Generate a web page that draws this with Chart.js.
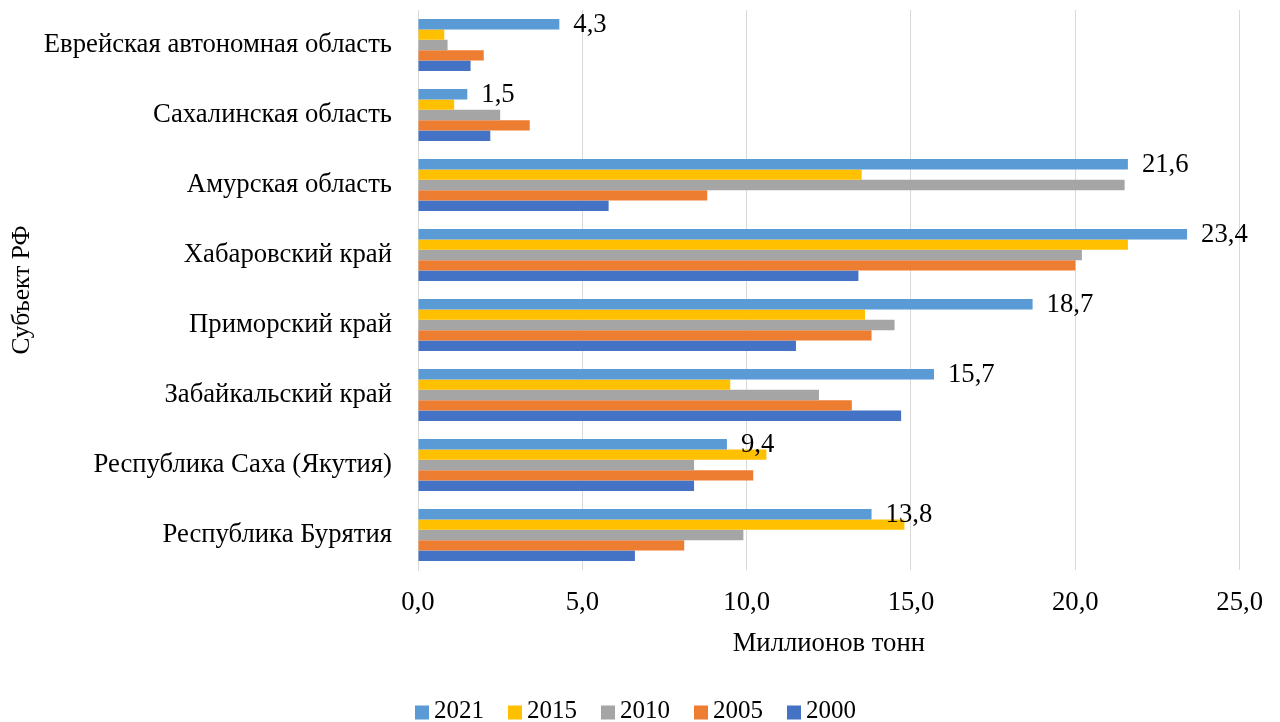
<!DOCTYPE html>
<html><head><meta charset="utf-8">
<script src="https://cdn.jsdelivr.net/npm/chart.js@4/dist/chart.umd.min.js"></script>
<style>html,body{margin:0;padding:0;background:#fff}#wrap{width:1280px;height:722px}</style>
</head><body><div id="wrap"><canvas id="c" width="1280" height="722"></canvas></div>
<script>
const categories = ['Еврейская автономная область','Сахалинская область','Амурская область','Хабаровский край','Приморский край','Забайкальский край','Республика Саха (Якутия)','Республика Бурятия'];
const years = ['2021','2015','2010','2005','2000'];
const v2021 = [4.3,1.5,21.6,23.4,18.7,15.7,9.4,13.8];
const v2015 = [0.8,1.1,13.5,21.6,13.6,9.5,10.6,14.8];
const v2010 = [0.9,2.5,21.5,20.2,14.5,12.2,8.4,9.9];
const v2005 = [2.0,3.4,8.8,20.0,13.8,13.2,10.2,8.1];
const v2000 = [1.6,2.2,5.8,13.4,11.5,14.7,8.4,6.6];
const xMin = 0, xMax = 25, xStep = 5;
const colors = ['#5B9BD5','#FFC000','#A5A5A5','#ED7D31','#4472C4'];
const series = [v2021,v2015,v2010,v2005,v2000];

const FONT = '"Liberation Serif","Times New Roman",serif';
const FS = 26.7;
const fmt = v => Number(v).toFixed(1).replace('.', ',');

const labelPlugin = {
  id: 'lbl',
  afterDatasetsDraw(chart) {
    const ctx = chart.ctx;
    const meta = chart.getDatasetMeta(0);
    ctx.save();
    ctx.font = FS + 'px ' + FONT;
    ctx.fillStyle = '#000';
    ctx.textBaseline = 'middle';
    ctx.textAlign = 'left';
    meta.data.forEach((el, i) => {
      ctx.fillText(fmt(chart.data.datasets[0].data[i]), el.x + 14, el.y + 1);
    });
    ctx.restore();
  }
};

const legendPlugin = {
  id: 'customLegend',
  afterDraw(chart) {
    const ctx = chart.ctx;
    ctx.save();
    ctx.font = '25px ' + FONT;
    ctx.textBaseline = 'middle';
    ctx.textAlign = 'left';
    const box = 14, gap = 5, spacing = 24;
    const ds = chart.data.datasets;
    const widths = ds.map(d => box + gap + ctx.measureText(d.label).width);
    const total = widths.reduce((a, b) => a + b, 0) + spacing * (ds.length - 1);
    let x = chart.width / 2 - 4.5 - total / 2;
    const yc = 711;
    ds.forEach((d, i) => {
      ctx.fillStyle = d.backgroundColor;
      ctx.fillRect(x, yc - box / 2 + 1.5, box, box);
      ctx.fillStyle = '#000';
      ctx.fillText(d.label, x + box + gap, yc);
      x += widths[i] + spacing;
    });
    ctx.restore();
  }
};

new Chart(document.getElementById('c'), {
  type: 'bar',
  data: {
    labels: categories,
    datasets: years.map((y, i) => ({
      label: y,
      data: series[i],
      backgroundColor: colors[i],
      borderWidth: 0,
      categoryPercentage: 0.74,
      barPercentage: 1.0
    }))
  },
  options: {
    indexAxis: 'y',
    responsive: false,
    animation: false,
    layout: { padding: { top: 10, right: 40, left: 0, bottom: 62 } },
    plugins: {
      legend: { display: false },
      tooltip: { enabled: false }
    },
    scales: {
      x: {
        min: xMin, max: xMax,
        ticks: { stepSize: xStep, color: '#000', font: { family: FONT, size: FS }, padding: 17, callback: v => fmt(v) },
        grid: { color: '#D9D9D9', lineWidth: 1, drawTicks: false },
        border: { display: false },
        title: { display: true, text: 'Миллионов тонн', color: '#000', font: { family: FONT, size: FS }, padding: { top: 4, bottom: 0 } },
        afterFit: s => { s.height = 90; }
      },
      y: {
        ticks: { color: '#000', font: { family: FONT, size: FS }, padding: 26 },
        grid: { display: false, drawTicks: false },
        border: { display: true, color: '#D9D9D9', width: 1 },
        title: { display: true, text: 'Субъект РФ', color: '#000', font: { family: FONT, size: 25.5 }, padding: { top: 7, bottom: 0 } },
        afterFit: s => { s.width = 418; s.paddingTop = 0; s.paddingBottom = 0; }
      }
    }
  },
  plugins: [labelPlugin, legendPlugin]
});
</script></body></html>
